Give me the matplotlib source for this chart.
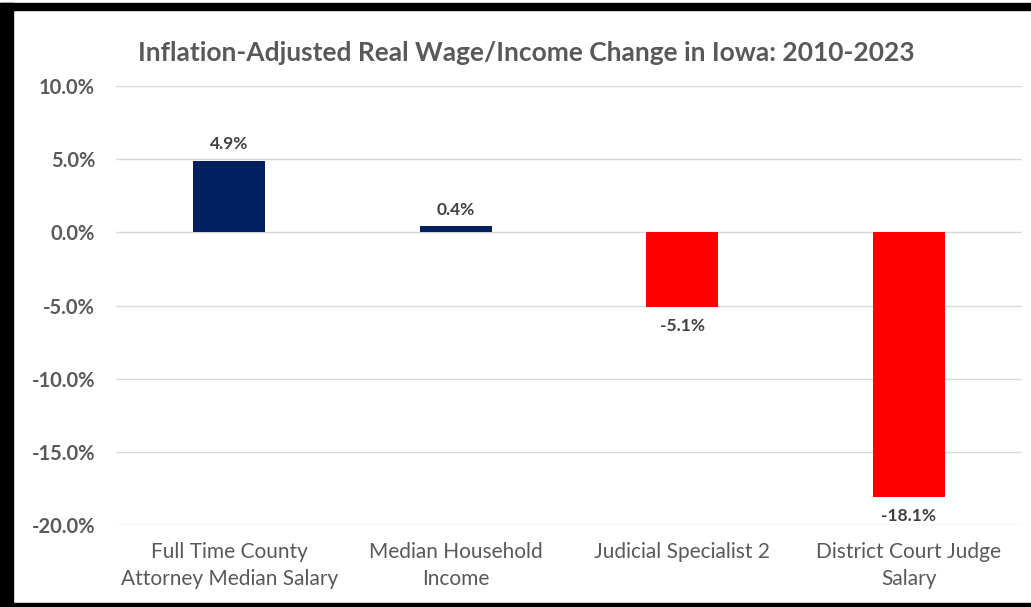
import matplotlib
matplotlib.use("Agg")
import matplotlib.pyplot as plt
from matplotlib.patches import Rectangle
from matplotlib.ticker import FuncFormatter

categories = ["Full Time County\nAttorney Median Salary", "Median Household\nIncome",
              "Judicial Specialist 2", "District Court Judge\nSalary"]
values = [4.9, 0.4, -5.1, -18.1]
labels = ["4.9%", "0.4%", "-5.1%", "-18.1%"]
colors = ["#002060", "#002060", "#FF0000", "#FF0000"]
yticks = [-20, -15, -10, -5, 0, 5, 10]
title = "Inflation-Adjusted Real Wage/Income Change in Iowa: 2010-2023"

plt.rcParams['font.family'] = ['Lato', 'DejaVu Sans']

W, H = 1031, 607
fig = plt.figure(figsize=(W / 100, H / 100), dpi=100)
fig.patch.set_facecolor("white")

ax = fig.add_axes([116 / W, (H - 525) / H, 906 / W, (525 - 86) / H])
x = range(len(categories))
bars = ax.bar(x, values, width=0.32, color=colors, zorder=3)
ax.set_xlim(-0.5, len(categories) - 0.5)
ax.set_ylim(-20, 10)
ax.set_yticks(yticks)
ax.yaxis.set_major_formatter(FuncFormatter(lambda v, p: f"{v:.1f}%"))
ax.grid(axis="y", color="#D9D9D9", linewidth=1, zorder=0)
for s in ax.spines.values():
    s.set_visible(False)
ax.tick_params(axis="both", length=0)
ax.tick_params(axis="y", pad=15, labelsize=14.5, labelcolor="#595959")
for t in ax.get_yticklabels():
    t.set_fontweight("bold")
ax.set_xticks(list(x))
ax.set_xticklabels(categories, fontsize=15, color="#595959", linespacing=1.45)
ax.tick_params(axis="x", pad=12)

for b, v, lab in zip(bars, values, labels):
    if v >= 0:
        ax.annotate(lab, (b.get_x() + b.get_width() / 2, v), xytext=(0, 6),
                    textcoords="offset points", ha="center", va="bottom",
                    fontsize=12.5, fontweight="bold", color="#404040")
    else:
        ax.annotate(lab, (b.get_x() + b.get_width() / 2, v), xytext=(0, -8),
                    textcoords="offset points", ha="center", va="top",
                    fontsize=12.5, fontweight="bold", color="#404040")

fig.text(526 / W, 1 - 53 / H, title, ha="center", va="center",
         fontsize=19, fontweight="bold", color="#595959")

# black frame (top, left, bottom)
fig.patches.append(Rectangle((0, 1 - 10 / H), 1, 7 / H, transform=fig.transFigure,
                             color="black", zorder=10))
fig.patches.append(Rectangle((0, 0), 13 / W, 1 - 3 / H, transform=fig.transFigure,
                             color="black", zorder=10))
fig.patches.append(Rectangle((0, 0), 1, 4 / H, transform=fig.transFigure,
                             color="black", zorder=10))

fig.savefig("out.png", dpi=100)
